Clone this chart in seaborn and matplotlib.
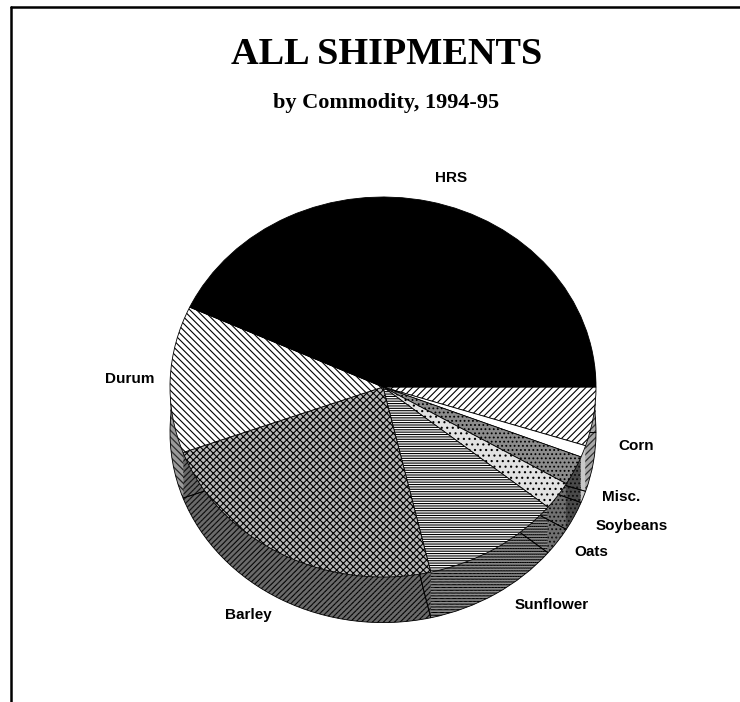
import matplotlib
matplotlib.use("Agg")
import matplotlib.pyplot as plt
import seaborn as sns
from matplotlib.lines import Line2D

# Data: shares of all shipments (%), clockwise from 3 o'clock
commodities = ["Corn", "Misc.", "Soybeans", "Oats", "Sunflower", "Barley", "Durum", "HRS"]
shares = [5.0, 1.0, 2.5, 2.4, 10.5, 23.0, 12.5, 43.1]

# label spots (data units of the pie axes)
label_x = [1.19, 1.12, 1.17, 0.98, 0.79, -0.63, -1.19, 0.32]
label_y = [-0.31, -0.58, -0.73, -0.87, -1.15, -1.20, 0.04, 1.10]

# top face / side wall looks
top_face = ["white", "white", "#8c8c8c", "#e2e2e2", "white", "#b8b8b8", "white", "black"]
top_hatch = ["/////", None, "....", "...", "-------", "xxxxx", "\\\\\\\\\\", None]
side_face = ["#a8a8a8", "#c8c8c8", "#4a4a4a", "#707070", "#8e8e8e", "#6a6a6a", "#9a9a9a", "#222222"]
side_hatch = ["/////", None, "....", "....", "------", "//////", "\\\\\\\\\\", None]

sns.set_style("white")
plt.rcParams["hatch.linewidth"] = 0.8
plt.rcParams["text.color"] = "black"

fig = plt.figure(figsize=(7.4, 7.02), dpi=100)
ax = fig.add_axes([0, 0, 1, 1])

depth = 0.24
n_layers = 26
for i in range(n_layers):
    off = -depth + depth * i / n_layers
    wedges, _ = ax.pie(shares, startangle=0, counterclock=False, radius=1,
                       center=(0, off), colors=side_face,
                       wedgeprops=dict(linewidth=0, edgecolor="black"))
    for w, h in zip(wedges, side_hatch):
        if h:
            w.set_hatch(h)

# outline of the bottom rim
ax.pie(shares, startangle=0, counterclock=False, radius=1,
       center=(0, -depth), colors=["none"] * len(shares),
       wedgeprops=dict(linewidth=0.6, edgecolor="black", fill=False))

wedges, _ = ax.pie(shares, startangle=0, counterclock=False, radius=1,
                   center=(0, 0), colors=top_face,
                   wedgeprops=dict(linewidth=0.6, edgecolor="black"))
for w, h in zip(wedges, top_hatch):
    if h:
        w.set_hatch(h)

ax.set_aspect("auto")
ax.set_xlim(-383 / 213, (740 - 383) / 213)
ax.set_ylim(-(702 - 387) / 190, 387 / 190)
ax.axis("off")

for name, lx, ly in zip(commodities, label_x, label_y):
    ax.text(lx, ly, name, ha="center", va="center", fontsize=11,
            fontweight="bold", family=["Liberation Sans", "DejaVu Sans"])

fig.text(0.522, 1 - 55 / 702, "ALL SHIPMENTS", ha="center", va="center",
         fontsize=27.5, fontweight="bold", family=["Liberation Serif", "DejaVu Serif"])
fig.text(0.522, 1 - 103 / 702, "by Commodity, 1994-95", ha="center", va="center",
         fontsize=16, fontweight="bold", family=["Liberation Serif", "DejaVu Serif"])

# page frame (top and left edges)
fig.add_artist(Line2D([11 / 740, 1], [1 - 7 / 702, 1 - 7 / 702], color="black",
                      lw=1.8, transform=fig.transFigure))
fig.add_artist(Line2D([11 / 740, 11 / 740], [0, 1 - 7 / 702], color="black",
                      lw=1.8, transform=fig.transFigure))

fig.savefig("out.png", dpi=100)
